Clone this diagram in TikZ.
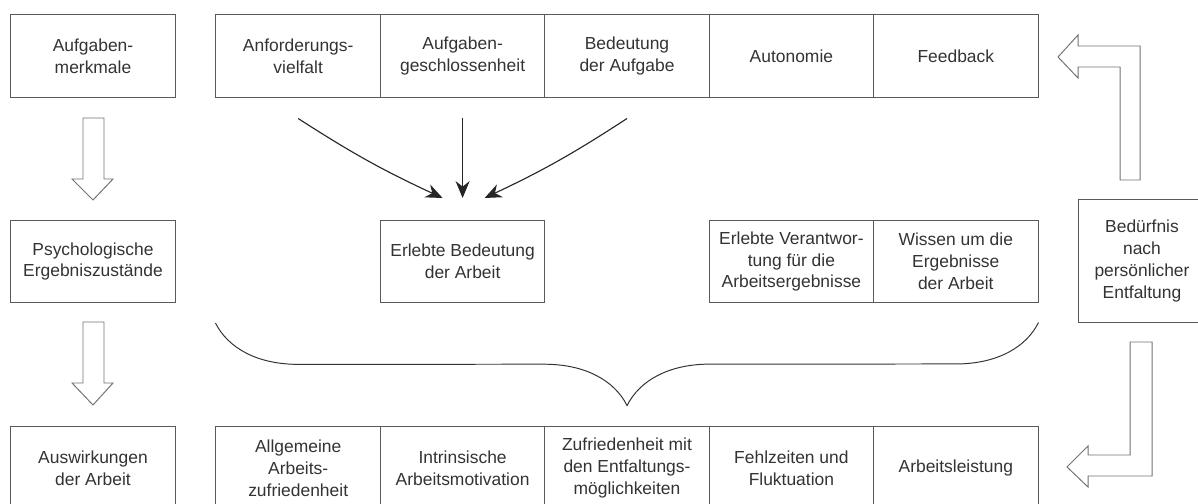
\documentclass[tikz,border=0pt]{standalone}
\usepackage{fontspec}
\setmainfont{Liberation Sans}
\usetikzlibrary{arrows.meta,calc,decorations.pathreplacing}

\tikzset{
  box/.style={draw=black!65, line width=0.7pt, minimum width=4.11cm,
    minimum height=2.05cm, inner sep=0pt, align=center, text=black!80,
    font=\fontsize{12.4}{15.6}\selectfont},
  hollow/.style={draw=black!55, line width=0.7pt, fill=white, line join=miter},
  pfeil/.style={draw=black!85, line width=0.8pt, -{Stealth[length=12pt,width=10pt]}},
  klammer/.style={draw=black!80, line width=0.7pt, decorate,
    decoration={brace, mirror, amplitude=2.07cm}},
}

\begin{document}
\begin{tikzpicture}[x=0.025cm, y=-0.025cm]
  \useasboundingbox (0,0) rectangle (1198,504);

  % Left column
  \node[box] (merk) at (93, 56) {Aufgaben-\\merkmale};
  \node[box] (psy) at (93, 261.5) {Psychologische\\Ergebniszustände};
  \node[box] (ausw) at (93, 468) {Auswirkungen\\der Arbeit};

  % Task characteristics
  \node[box] (anf) at (298.2, 56) {Anforderungs-\\vielfalt};
  \node[box] (ges) at (462.6, 56) {Aufgaben-\\geschlossenheit};
  \node[box] (bed) at (627, 56) {Bedeutung\\der Aufgabe};
  \node[box] (auto) at (791.4, 56) {Autonomie};
  \node[box] (feed) at (955.8, 56) {Feedback};

  % Psychological states
  \node[box] (erl) at (462.6, 261.5) {Erlebte Bedeutung\\der Arbeit};
  \node[box] (ver) at (791.4, 261.5) {Erlebte Verantwor-\\tung für die\\Arbeitsergebnisse};
  \node[box] (wis) at (955.8, 261.5) {Wissen um die\\Ergebnisse\\der Arbeit};

  % Outcomes
  \node[box] (allg) at (298.2, 468) {Allgemeine\\Arbeits-\\zufriedenheit};
  \node[box] (intr) at (462.6, 468) {Intrinsische\\Arbeitsmotivation};
  \node[box] (zuf) at (627, 468) {Zufriedenheit mit\\den Entfaltungs-\\möglichkeiten};
  \node[box] (fehl) at (791.4, 468) {Fehlzeiten und\\Fluktuation};
  \node[box] (leis) at (955.8, 468) {Arbeitsleistung};

  % Moderator
  \node[box, minimum width=3.2cm, minimum height=3.05cm] (entf) at (1142, 261) {Bedürfnis\\nach\\persönlicher\\Entfaltung};

  % Arrows into experienced meaningfulness
  \draw[pfeil] ($(anf.south)+(0,21)$) to[bend right=4] ($(erl.north)+(-20,-22)$);
  \draw[pfeil] ($(ges.south)+(0,21)$) -- ($(erl.north)+(0,-22)$);
  \draw[pfeil] ($(bed.south)+(0,21)$) to[bend left=4] ($(erl.north)+(22,-22)$);

  % Brace
  \draw[klammer] ($(anf.west |- erl.south)+(0,20)$) -- ($(wis.east)+(0,61)$);

  % Hollow arrows, left column
  \draw[hollow] (83,118) -- (104,118) -- (104,179) -- (113,179) -- (93,200)
    -- (72,179) -- (83,179) -- cycle;
  \draw[hollow] (83,322) -- (104,322) -- (104,383) -- (113,383) -- (93,405)
    -- (72,383) -- (83,383) -- cycle;

  % Bent hollow arrows, right
  \draw[hollow] (1058,57) -- (1078,35) -- (1078,46) -- (1140,46) -- (1140,180)
    -- (1120,180) -- (1120,67) -- (1078,67) -- (1078,78) -- cycle;
  \draw[hollow] (1067,467) -- (1088,446) -- (1088,455) -- (1130,455) -- (1130,342)
    -- (1152,342) -- (1152,476) -- (1088,476) -- (1088,487) -- cycle;
\end{tikzpicture}
\end{document}
